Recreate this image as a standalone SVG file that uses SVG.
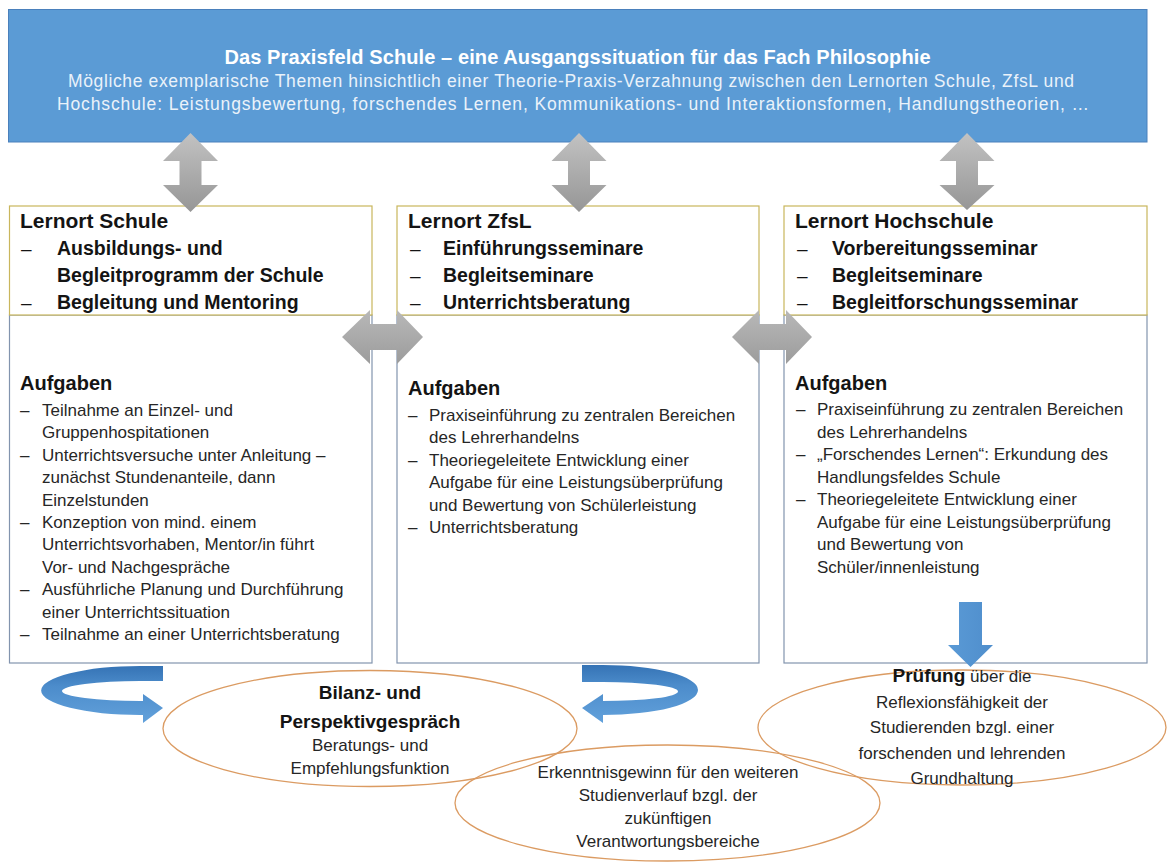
<svg xmlns="http://www.w3.org/2000/svg" width="1173" height="862" viewBox="0 0 1173 862">
<defs>
  <linearGradient id="gGrey" x1="0" y1="0" x2="0" y2="1">
    <stop offset="0" stop-color="#C2C2C2"/>
    <stop offset="1" stop-color="#969696"/>
  </linearGradient>
  <linearGradient id="gGreyH" x1="0" y1="0" x2="0" y2="1">
    <stop offset="0" stop-color="#B8B8B8"/>
    <stop offset="1" stop-color="#9C9C9C"/>
  </linearGradient>
  <linearGradient id="gCurve" x1="0" y1="0" x2="0" y2="1">
    <stop offset="0" stop-color="#3573B5"/>
    <stop offset="0.35" stop-color="#4C8CCB"/>
    <stop offset="1" stop-color="#62A1DB"/>
  </linearGradient>
  <linearGradient id="gDown" x1="0" y1="0" x2="1" y2="0">
    <stop offset="0" stop-color="#5A9AD6"/>
    <stop offset="1" stop-color="#4F8ECC"/>
  </linearGradient>
</defs>
<style>
  text { font-family: "Liberation Sans", Arial, sans-serif; }
  .title { font-size: 20px; font-weight: bold; fill: #FFFFFF; }
  .sub { font-size: 17.5px; fill: #EAF2FA; }
  .hd { font-size: 21px; font-weight: bold; fill: #141414; }
  .it { font-size: 19.5px; font-weight: bold; fill: #141414; }
  .dash { font-size: 19px; fill: #141414; }
  .ag { font-size: 20px; font-weight: bold; fill: #141414; }
  .tx { font-size: 17px; fill: #262626; }
  .eb { font-size: 19px; font-weight: bold; fill: #141414; }
  .et { font-size: 17px; fill: #262626; }
  .b { font-weight: bold; font-size: 19px; fill: #141414; }
  .hbox { fill: #FFFFFF; stroke: #C9B65C; stroke-width: 1.2; }
  .lbox { fill: #FFFFFF; stroke: #8294AE; stroke-width: 1.2; }
  .ell { fill: none; stroke: #DB9B62; stroke-width: 1.3; }
  .garrow { fill: url(#gGrey); }
  .harrow { fill: url(#gGreyH); }
  .carrow { fill: url(#gCurve); }
</style>

<rect width="1173" height="862" fill="#FFFFFF"/>

<g id="banner">
  <rect x="8.5" y="9.5" width="1138.5" height="132.5" fill="#5B9BD5" stroke="#4A80BC" stroke-width="1"/>
  <text class="title" x="577.5" y="64" text-anchor="middle" textLength="706" lengthAdjust="spacing">Das Praxisfeld Schule – eine Ausgangssituation für das Fach Philosophie</text>
  <text class="sub" x="571" y="87" text-anchor="middle" textLength="1006" lengthAdjust="spacing">Mögliche exemplarische Themen hinsichtlich einer Theorie-Praxis-Verzahnung zwischen den Lernorten Schule, ZfsL und</text>
  <text class="sub" x="573" y="110" text-anchor="middle" textLength="1032" lengthAdjust="spacing">Hochschule: Leistungsbewertung, forschendes Lernen, Kommunikations- und Interaktionsformen, Handlungstheorien, …</text>
</g>

<g id="lernort-schule">
  <rect class="lbox" x="9.5" y="315" width="362.5" height="348"/>
  <rect class="hbox" x="9.5" y="206" width="362.5" height="109"/>
  <text class="hd" x="20" y="228">Lernort Schule</text>
  <text class="dash" x="21" y="255">–</text>
  <text class="it" x="57" y="255">Ausbildungs- und</text>
  <text class="it" x="57" y="282">Begleitprogramm der Schule</text>
  <text class="dash" x="21" y="309">–</text>
  <text class="it" x="57" y="309">Begleitung und Mentoring</text>
  <text class="ag" x="20" y="390">Aufgaben</text>
  <text class="tx" x="20" y="416">–</text>
  <text class="tx" x="42" y="416">Teilnahme an Einzel- und</text>
  <text class="tx" x="42" y="438.4">Gruppenhospitationen</text>
  <text class="tx" x="20" y="460.8">–</text>
  <text class="tx" x="42" y="460.8">Unterrichtsversuche unter Anleitung –</text>
  <text class="tx" x="42" y="483.2">zunächst Stundenanteile, dann</text>
  <text class="tx" x="42" y="505.6">Einzelstunden</text>
  <text class="tx" x="20" y="528">–</text>
  <text class="tx" x="42" y="528">Konzeption von mind. einem</text>
  <text class="tx" x="42" y="550.4">Unterrichtsvorhaben, Mentor/in führt</text>
  <text class="tx" x="42" y="572.8">Vor- und Nachgespräche</text>
  <text class="tx" x="20" y="595.2">–</text>
  <text class="tx" x="42" y="595.2">Ausführliche Planung und Durchführung</text>
  <text class="tx" x="42" y="617.6">einer Unterrichtssituation</text>
  <text class="tx" x="20" y="640">–</text>
  <text class="tx" x="42" y="640">Teilnahme an einer Unterrichtsberatung</text>
</g>

<g id="lernort-zfsl">
  <rect class="lbox" x="397" y="315" width="362" height="348"/>
  <rect class="hbox" x="397" y="206" width="362" height="109"/>
  <text class="hd" x="408" y="228">Lernort ZfsL</text>
  <text class="dash" x="410" y="255">–</text>
  <text class="it" x="443" y="255">Einführungsseminare</text>
  <text class="dash" x="410" y="282">–</text>
  <text class="it" x="443" y="282">Begleitseminare</text>
  <text class="dash" x="410" y="309">–</text>
  <text class="it" x="443" y="309">Unterrichtsberatung</text>
  <text class="ag" x="408" y="395">Aufgaben</text>
  <text class="tx" x="408" y="421">–</text>
  <text class="tx" x="429" y="421">Praxiseinführung zu zentralen Bereichen</text>
  <text class="tx" x="429" y="443.4">des Lehrerhandelns</text>
  <text class="tx" x="408" y="465.8">–</text>
  <text class="tx" x="429" y="465.8">Theoriegeleitete Entwicklung einer</text>
  <text class="tx" x="429" y="488.2">Aufgabe für eine Leistungsüberprüfung</text>
  <text class="tx" x="429" y="510.6">und Bewertung von Schülerleistung</text>
  <text class="tx" x="408" y="533">–</text>
  <text class="tx" x="429" y="533">Unterrichtsberatung</text>
</g>

<g id="lernort-hochschule">
  <rect class="lbox" x="784" y="315" width="363" height="348"/>
  <rect class="hbox" x="784" y="206" width="363" height="109"/>
  <text class="hd" x="795" y="228">Lernort Hochschule</text>
  <text class="dash" x="797" y="255">–</text>
  <text class="it" x="832" y="255">Vorbereitungsseminar</text>
  <text class="dash" x="797" y="282">–</text>
  <text class="it" x="832" y="282">Begleitseminare</text>
  <text class="dash" x="797" y="309">–</text>
  <text class="it" x="832" y="309">Begleitforschungsseminar</text>
  <text class="ag" x="795" y="390">Aufgaben</text>
  <text class="tx" x="796" y="415">–</text>
  <text class="tx" x="817" y="415">Praxiseinführung zu zentralen Bereichen</text>
  <text class="tx" x="817" y="437.5">des Lehrerhandelns</text>
  <text class="tx" x="796" y="460">–</text>
  <text class="tx" x="817" y="460">„Forschendes Lernen“: Erkundung des</text>
  <text class="tx" x="817" y="482.5">Handlungsfeldes Schule</text>
  <text class="tx" x="796" y="505">–</text>
  <text class="tx" x="817" y="505">Theoriegeleitete Entwicklung einer</text>
  <text class="tx" x="817" y="527.5">Aufgabe für eine Leistungsüberprüfung</text>
  <text class="tx" x="817" y="550">und Bewertung von</text>
  <text class="tx" x="817" y="572.5">Schüler/innenleistung</text>
</g>

<g id="bilanz">
  <ellipse class="ell" cx="370" cy="728.5" rx="207" ry="58"/>
  <text class="eb" x="370" y="699" text-anchor="middle">Bilanz- und</text>
  <text class="eb" x="370" y="728" text-anchor="middle">Perspektivgespräch</text>
  <text class="et" x="370" y="751" text-anchor="middle">Beratungs- und</text>
  <text class="et" x="370" y="774" text-anchor="middle">Empfehlungsfunktion</text>
</g>

<g id="erkenntnis">
  <ellipse class="ell" cx="667.5" cy="803" rx="212.5" ry="58"/>
  <text class="et" x="668" y="778" text-anchor="middle">Erkenntnisgewinn für den weiteren</text>
  <text class="et" x="668" y="801" text-anchor="middle">Studienverlauf bzgl. der</text>
  <text class="et" x="668" y="824" text-anchor="middle">zukünftigen</text>
  <text class="et" x="668" y="847" text-anchor="middle">Verantwortungsbereiche</text>
</g>

<g id="pruefung">
  <ellipse class="ell" cx="962" cy="727.5" rx="204" ry="57.5"/>
  <text class="et" x="962" y="682" text-anchor="middle"><tspan class="b">Prüfung</tspan> über die</text>
  <text class="et" x="962" y="707.5" text-anchor="middle">Reflexionsfähigkeit der</text>
  <text class="et" x="962" y="733" text-anchor="middle">Studierenden bzgl. einer</text>
  <text class="et" x="962" y="758.5" text-anchor="middle">forschenden und lehrenden</text>
  <text class="et" x="962" y="784" text-anchor="middle">Grundhaltung</text>
</g>

<g id="connectors">
  <path class="garrow" d="M190.5,133 L218,161 L201.5,161 L201.5,185 L218,185 L190.5,212 L163,185 L179.5,185 L179.5,161 L163,161 Z"/>
  <path class="garrow" d="M579,133 L606.5,161 L590,161 L590,185 L606.5,185 L579,212 L551.5,185 L568,185 L568,161 L551.5,161 Z"/>
  <path class="garrow" d="M967,133 L994.5,161 L978,161 L978,185 L994.5,185 L967,210 L939.5,185 L956,185 L956,161 L939.5,161 Z"/>
  <path class="harrow" d="M342,337 L370,310 L370,324 L397,324 L397,310 L423,337 L397,364 L397,350 L370,350 L370,364 Z"/>
  <path class="harrow" d="M732,337 L759,310 L759,324 L786,324 L786,310 L812,337 L786,364 L786,350 L759,350 L759,364 Z"/>
  <path fill="url(#gDown)" d="M959,602 L982,602 L982,645 L993,645 L970.5,667 L948,645 L959,645 Z"/>
  <path class="carrow" d="M163,666 L140,666 A99 24.5 0 0 0 140,715 L143,715 L143,723 L163,708 L143,694 L143,701 L140,701 A78 10 0 0 1 140,681 L163,681 Z"/>
  <path class="carrow" d="M582,665 L603,665 A95 25 0 0 1 603,715 L603,723 L582,708 L603,694 L603,701 A75 9.5 0 0 0 603,682 L582,682 Z"/>
</g>
</svg>
